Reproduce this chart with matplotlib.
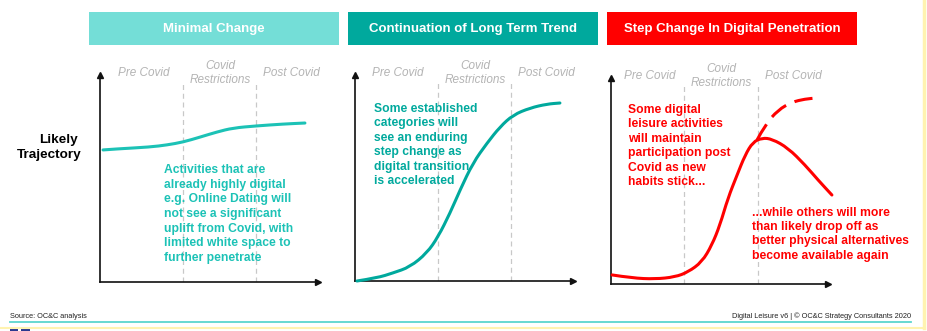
import matplotlib.pyplot as plt
from matplotlib.patches import Rectangle, PathPatch
from matplotlib.path import Path

plt.rcParams['font.family'] = ['Liberation Sans', 'DejaVu Sans']

# panel titles / colours
titles = ['Minimal Change', 'Continuation of Long Term Trend', 'Step Change In Digital Penetration']
title_colors = ['#74ded7', '#00a99d', '#ff0000']
line_colors = ['#1cc2b6', '#00a99d', '#ff0000']
phases = ['Pre Covid', 'Covid\nRestrictions', 'Post Covid']

# curves (time 0-100, level 0-100)
x_minimal = [1.4, 7.8, 22.9, 30.7, 38.1, 45.9, 53.7, 61.0, 71.6, 83.9, 94.0]
y_minimal = [63.8, 64.3, 65.2, 66.2, 67.6, 70.0, 72.5, 74.4, 75.4, 76.3, 76.8]

x_trend = [0.9, 10.1, 17.4, 25.2, 33.0, 38.1, 43.6, 48.2, 54.1, 60.6, 66.5, 72.5, 80.3, 88.1, 94.0]
y_trend = [0.0, 1.5, 3.9, 6.8, 13.6, 21.4, 33.0, 44.2, 57.3, 67.0, 74.8, 80.6, 84.0, 85.9, 86.4]

x_step = [0.5, 9.7, 20.3, 29.5, 35.5, 41.9, 46.5, 50.2, 53.9, 58.1, 61.8, 65.4, 69.6, 74.2, 81.6, 89.4, 95.4, 101.8]
y_step = [4.4, 2.9, 2.4, 3.4, 5.8, 10.7, 18.9, 28.6, 41.7, 52.9, 62.6, 68.9, 70.9, 70.4, 66.0, 57.8, 50.5, 43.2]
x_stick = [67.3, 71.0, 77.0, 83.4, 89.4, 94.9]
y_stick = [69.9, 77.2, 84.5, 88.3, 89.8, 90.3]

dividers = [[38.1, 71.6], [38.1, 71.6], [33.6, 67.7]]
phase_x = [[20.2, 55, 88], [19.7, 55, 88], [18, 51, 84]]

notes = [
    "Activities that are\nalready highly digital\ne.g. Online Dating will\nnot see a significant\nuplift from Covid, with\nlimited white space to\nfurther penetrate",
    "Some established\ncategories will\nsee an enduring\nstep change as\ndigital transition\nis accelerated",
    "Some digital\nleisure activities\nwill maintain\nparticipation post\nCovid as new\nhabits stick...",
]
note_xy = [(29.4, 56.8), (8.7, 86.6), (7.8, 87.6)]
note2 = "...while others will more\nthan likely drop off as\nbetter physical alternatives\nbecome available again"


def smooth_path(xs, ys):
    # quadratic bezier through midpoints, read points used as control points
    pts = list(zip(xs, ys))
    verts = [pts[0]]
    codes = [Path.MOVETO]
    for i in range(1, len(pts) - 1):
        mid = ((pts[i][0] + pts[i + 1][0]) / 2, (pts[i][1] + pts[i + 1][1]) / 2)
        verts += [pts[i], mid]
        codes += [Path.CURVE3, Path.CURVE3]
    verts.append(pts[-1])
    codes.append(Path.LINETO)
    return Path(verts, codes)


W, H = 928, 331
fig = plt.figure(figsize=(W / 100, H / 100), dpi=100)

# background layer in pixel units
bg = fig.add_axes([0, 0, 1, 1])
bg.set_xlim(0, W)
bg.set_ylim(H, 0)
bg.axis('off')

header_x = [89, 348, 607]
for hx, t, c in zip(header_x, titles, title_colors):
    bg.add_patch(Rectangle((hx, 12), 250, 33, color=c, lw=0))
    bg.text(hx + 125, 29, t, color='white', fontsize=9.5, fontweight='bold', ha='center', va='center')

bg.text(58.5, 140, 'Likely', fontsize=9.7, fontweight='bold', ha='center', va='center')
bg.text(49, 155, 'Trajectory', fontsize=9.7, fontweight='bold', ha='center', va='center')

bg.text(10, 316, 'Source: OC&C analysis', fontsize=5.3, va='center', color='#222222')
bg.text(911, 316, 'Digital Leisure v6 | \u00a9 OC&C Strategy Consultants 2020', fontsize=5.3,
        va='center', ha='right', color='#222222')
bg.plot([10, 911], [322, 322], color='#5cd6cf', lw=1.3)
bg.plot([0, 925], [328, 328], color='#fff3b0', lw=1.5)
bg.plot([924, 924], [0, 328], color='#fff3b0', lw=2.5)
bg.add_patch(Rectangle((10, 328.5), 8, 3, color='#2b3990', lw=0))
bg.add_patch(Rectangle((21, 328.5), 9, 3, color='#2b3990', lw=0))

# panel axes positions in pixels: left, axis y, width, height
panels = [(100, 282, 218, 207), (355, 281, 218, 206), (611, 284, 217, 206)]
curves = [(x_minimal, y_minimal), (x_trend, y_trend), (x_step, y_step)]

axes = []
for i, (px, py, pw, ph) in enumerate(panels):
    ax = fig.add_axes([px / W, (H - py) / H, pw / W, ph / H])
    ax.set_xlim(0, 100)
    ax.set_ylim(0, 100)
    ax.patch.set_alpha(0)
    for s in ['top', 'right']:
        ax.spines[s].set_visible(False)
    for s in ['left', 'bottom']:
        ax.spines[s].set_linewidth(1.2)
        ax.spines[s].set_color('#111111')
    ax.set_xticks([])
    ax.set_yticks([])
    ax.plot(0, 1, '^', color='#111111', ms=5, transform=ax.transAxes, clip_on=False)
    ax.plot(1, 0, '>', color='#111111', ms=5, transform=ax.transAxes, clip_on=False)

    for d in dividers[i]:
        ax.plot([d, d], [0, 96], color='#c8c8c8', lw=0.9, ls=(0, (4, 3)), zorder=1)
    for lx, lab in zip(phase_x[i], phases):
        ax.text(lx, 100.8, lab, color='#b4b4b4', fontsize=8.5, style='italic',
                ha='center', va='center', linespacing=1.25, clip_on=False)

    cx, cy = curves[i]
    ax.add_patch(PathPatch(smooth_path(cx, cy), fill=False, edgecolor=line_colors[i], lw=2.2,
                           capstyle='round', joinstyle='round', clip_on=False, zorder=3))

    nx, ny = note_xy[i]
    ax.text(nx, ny, notes[i], color=line_colors[i], fontsize=8.7, fontweight='bold',
            ha='left', va='top', linespacing=1.28, zorder=4)
    axes.append(ax)

ax3 = axes[2]
ax3.add_patch(PathPatch(smooth_path(x_stick, y_stick), fill=False, edgecolor='#ff0000', lw=2.2,
                        ls=(0, (6, 3)), clip_on=False, zorder=3))
ax3.text(65.0, 37.3, note2, color='#ff0000', fontsize=8.7, fontweight='bold',
         ha='left', va='top', linespacing=1.24, zorder=4)

fig.savefig('out.png', dpi=100)
